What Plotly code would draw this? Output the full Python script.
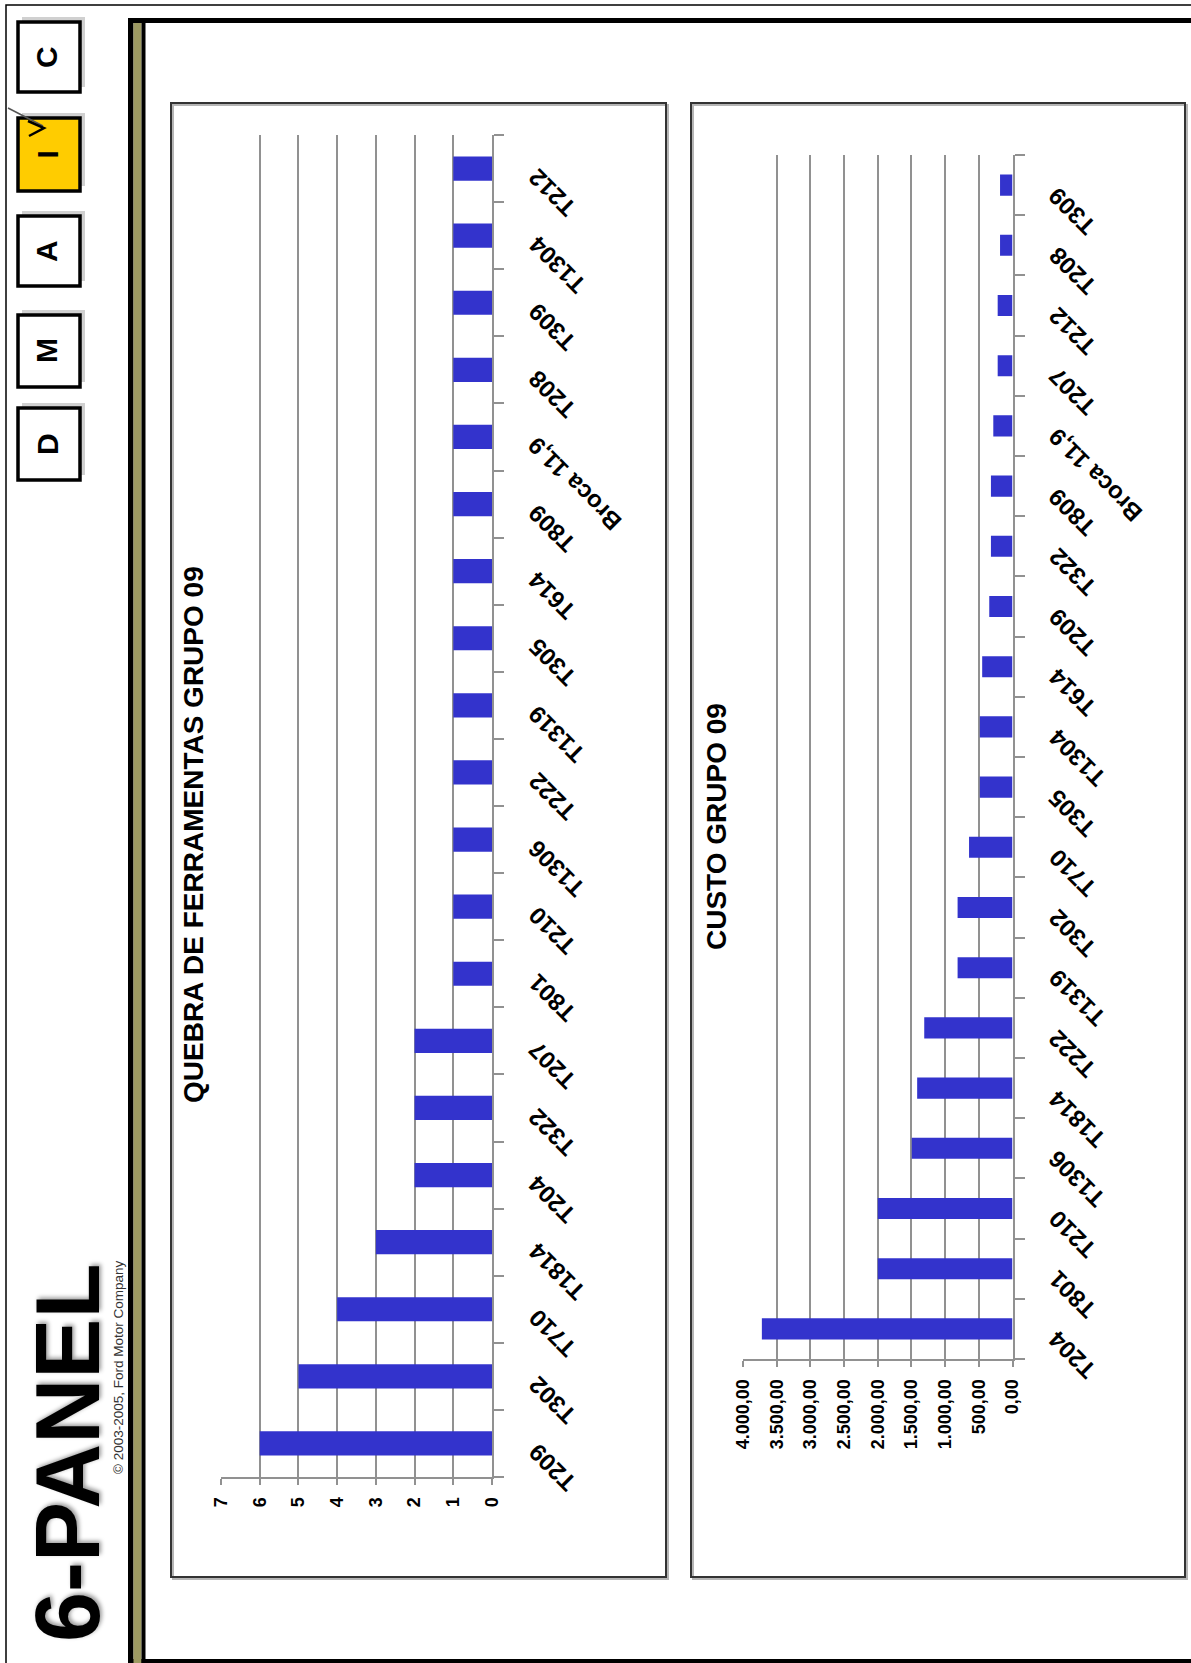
import plotly.graph_objects as go

W, H = 1191, 1663
FONT = "Liberation Sans, Arial, sans-serif"
BAR = "#3333CC"
GRID = "#919191"

# Tool breakages, listed bottom-to-top along the category axis
quebra_tools = ["T209", "T302", "T710", "T1814", "T204", "T322", "T207", "T801",
                "T210", "T1306", "T222", "T1319", "T305", "T614", "T809",
                "Broca 11,9", "T208", "T309", "T1304", "T212"]
quebra_counts = [6, 5, 4, 3, 2, 2, 2, 1, 1, 1, 1, 1, 1, 1, 1, 1, 1, 1, 1, 1]
quebra_ticks = [0, 1, 2, 3, 4, 5, 6, 7]

# Tool cost, listed bottom-to-top along the category axis
custo_tools = ["T204", "T801", "T210", "T1306", "T1814", "T222", "T1319", "T302",
               "T710", "T305", "T1304", "T614", "T209", "T322", "T809",
               "Broca 11,9", "T207", "T212", "T208", "T309"]
custo_values = [3720, 2000, 2000, 1495, 1415, 1310, 815, 815, 645, 485,
                485, 450, 345, 320, 320, 285, 220, 220, 185, 185]
custo_ticks = [0, 500, 1000, 1500, 2000, 2500, 3000, 3500, 4000]

titles = ["QUEBRA DE FERRAMENTAS GRUPO 09", "CUSTO GRUPO 09"]
dmaic_letters = ["D", "M", "A", "I", "C"]
active_step = "I"


def px(x):
    return x / W


def py(y):
    return 1 - y / H


def rect(x0, y0, x1, y1, **kw):
    d = dict(type="rect", xref="paper", yref="paper",
             x0=px(x0), x1=px(x1), y0=py(y1), y1=py(y0))
    d.update(kw)
    return d


def path(points, **kw):
    s = " ".join(("M" if i == 0 else "L") + f" {px(x):.5f},{py(y):.5f}"
                 for i, (x, y) in enumerate(points))
    d = dict(type="path", xref="paper", yref="paper", path=s)
    d.update(kw)
    return d


def page_text(x, y, text, size, angle=-90, **font):
    fig.add_annotation(x=px(x), y=py(y), xref="paper", yref="paper", text=text,
                       textangle=angle, showarrow=False,
                       xanchor="center", yanchor="middle",
                       font=dict(family=FONT, size=size, **font))


fig = go.Figure()
fig.add_trace(go.Bar(x=quebra_counts, y=quebra_tools, orientation="h",
                     marker=dict(color=BAR, line=dict(width=0)), width=0.36,
                     xaxis="x", yaxis="y", hoverinfo="x+y"))
fig.add_trace(go.Bar(x=custo_values, y=custo_tools, orientation="h",
                     marker=dict(color=BAR, line=dict(width=0)), width=0.35,
                     xaxis="x2", yaxis="y2", hoverinfo="x+y"))

value_axis = dict(showgrid=True, gridcolor=GRID, gridwidth=2, showline=True,
                  linecolor=GRID, linewidth=2, ticks="outside", ticklen=6,
                  tickwidth=2, tickcolor=GRID, tickangle=-90, zeroline=False,
                  ticklabelstandoff=5, automargin=False,
                  tickfont=dict(family=FONT, size=18, color="black", weight="bold"))
cat_axis = dict(type="category", side="right", showline=True, linecolor=GRID,
                linewidth=2, ticks="outside", tickson="boundaries", ticklen=10,
                tickwidth=2, tickcolor=GRID, showticklabels=False, showgrid=False,
                automargin=False)

fig.update_layout(
    width=W, height=H, autosize=False,
    margin=dict(l=0, r=0, t=0, b=0, pad=0, autoexpand=False),
    paper_bgcolor="white", plot_bgcolor="rgba(0,0,0,0)",
    showlegend=False, separators=",.",
    xaxis=dict(domain=[px(221), px(492)], anchor="y", range=[7, 0],
               tickvals=quebra_ticks, **value_axis),
    yaxis=dict(domain=[py(1477), py(135)], anchor="x",
               categoryorder="array", categoryarray=quebra_tools,
               range=[-0.5, len(quebra_tools) - 0.5], **cat_axis),
    xaxis2=dict(domain=[px(743), px(1012.5)], anchor="y2", range=[4000, 0],
                tickvals=custo_ticks, tickformat=",.2f", **value_axis),
    yaxis2=dict(domain=[py(1359), py(155)], anchor="x2",
                categoryorder="array", categoryarray=custo_tools,
                range=[-0.5, len(custo_tools) - 0.5], **cat_axis),
)

shapes = []
# outer page border
shapes.append(rect(6, 5, 1200, 1675, line=dict(color="black", width=1.5), layer="below"))
# main frame: black top/bottom bars, olive strip on the left
shapes.append(rect(128, 18, 1200, 23, fillcolor="black", line=dict(width=0)))
shapes.append(rect(128, 1659, 1200, 1670, fillcolor="black", line=dict(width=0)))
shapes.append(rect(128, 18, 133.5, 1670, fillcolor="black", line=dict(width=0)))
shapes.append(rect(133.5, 23, 141.5, 1670, fillcolor="#9d9a62", line=dict(width=0)))
shapes.append(rect(141.5, 18, 145.5, 1670, fillcolor="black", line=dict(width=0)))

# chart panels with a soft shadow
for x0, x1 in [(171, 666), (691, 1185)]:
    shapes.append(rect(x0 + 2, 105, x1 + 2, 1579, line=dict(color="#b5b5b5", width=2), layer="below"))
    shapes.append(rect(x0, 103, x1, 1577, line=dict(color="#333333", width=2), layer="below"))

# DMAIC step boxes
box_y = {"D": (408, 480), "M": (315, 387), "A": (216, 286), "I": (118, 191), "C": (22, 92)}
for letter in dmaic_letters:
    y0, y1 = box_y[letter]
    shapes.append(rect(22, y0 - 5, 85, y1 - 5, fillcolor="#d0d0d0", line=dict(width=0)))
    fill = "#FFCC00" if letter == active_step else "white"
    shapes.append(rect(18, y0, 80, y1, fillcolor=fill, line=dict(color="black", width=3.5)))
    page_text(47, (y0 + y1) / 2, letter, 30, color="black", weight="bold")

# check mark on the active step
shapes.append(path([(8, 108), (43, 126)], line=dict(color="#555555", width=1.5)))
shapes.append(path([(28, 121), (44, 128), (29, 136)], line=dict(color="black", width=2.5)))

fig.update_layout(shapes=shapes)

# header texts
page_text(68, 1453, "6-PANEL", 90, color="black", weight="bold",
          shadow="2px 2px 4px #9a9a9a")
page_text(118, 1367, "© 2003-2005, Ford Motor Company", 13.5, color="#333333")

# chart titles
page_text(194, 835, titles[0], 28, color="black", weight="bold")
page_text(716, 827, titles[1], 28, color="black", weight="bold")

# slanted category labels beside each category axis
label_font = dict(family=FONT, size=24, color="black", weight="bold")
for cat in quebra_tools:
    fig.add_annotation(x=0, y=cat, xref="x", yref="y", text=cat, textangle=-135,
                       xanchor="left", yanchor="top", xshift=28, yshift=8,
                       showarrow=False, font=label_font)
for cat in custo_tools:
    fig.add_annotation(x=0, y=cat, xref="x2", yref="y2", text=cat, textangle=-135,
                       xanchor="left", yanchor="top", xshift=28, yshift=6,
                       showarrow=False, font=label_font)

fig.write_html("out.html")
